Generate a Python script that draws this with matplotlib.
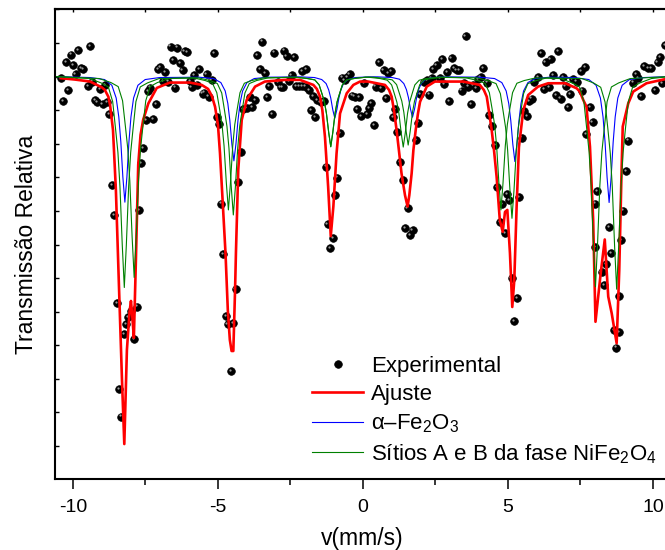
import matplotlib
matplotlib.use("Agg")
import matplotlib.pyplot as plt
import matplotlib.transforms as mtransforms
from matplotlib.ticker import MultipleLocator, NullFormatter

plt.rcParams['font.family'] = ['Liberation Sans', 'DejaVu Sans']
plt.rcParams['mathtext.fontset'] = 'custom'
plt.rcParams['mathtext.rm'] = 'Liberation Sans'
plt.rcParams['mathtext.it'] = 'Liberation Sans:italic'
plt.rcParams['mathtext.bf'] = 'Liberation Sans:bold'

# ---- dados experimentais (velocidade mm/s, transmissao relativa %) ----
exp_v = [
    -10.41, -10.33, -10.24, -10.16, -10.07, -9.99, -9.91, -9.82, -9.72, -9.64,
    -9.49, -9.41, -9.33, -9.24, -9.16, -9.07, -8.98, -8.90, -8.82, -8.75,
    -8.66, -8.58, -8.48, -8.40, -8.34, -8.23, -8.17, -8.09, -8.00, -7.90,
    -7.80, -7.72, -7.64, -7.57, -7.49, -7.40, -7.33, -7.24, -7.14, -7.07,
    -7.00, -6.89, -6.82, -6.73, -6.63, -6.56, -6.48, -6.40, -6.31, -6.22,
    -6.15, -6.06, -5.97, -5.91, -5.82, -5.73, -5.64, -5.53, -5.47, -5.39,
    -5.32, -5.22, -5.13, -5.04, -4.98, -4.90, -4.82, -4.73, -4.67, -4.55,
    -4.47, -4.39, -4.30, -4.22, -4.13, -4.01, -3.90, -3.82, -3.72, -3.64,
    -3.55, -3.47, -3.38, -3.30, -3.23, -3.13, -3.05, -2.93, -2.84, -2.77,
    -2.72, -2.63, -2.54, -2.46, -2.38, -2.31, -2.21, -2.11, -2.09, -1.98,
    -1.97, -1.87, -1.80, -1.71, -1.64, -1.58, -1.46, -1.36, -1.28, -1.22,
    -1.14, -1.04, -0.96, -0.88, -0.79, -0.72, -0.63, -0.54, -0.46,
    -0.37, -0.29, -0.21, -0.13, -0.07, 0.04, 0.13, 0.21, 0.29, 0.39,
    0.44, 0.55, 0.62, 0.71, 0.80, 0.86, 0.96, 1.04, 1.10, 1.18,
    1.29, 1.39, 1.46, 1.54, 1.62, 1.71, 1.82, 1.90, 1.97, 2.09,
    2.20, 2.29, 2.37, 2.43, 2.54, 2.66, 2.72, 2.79, 2.89, 2.98,
    3.06, 3.14, 3.23, 3.32, 3.40, 3.48, 3.54, 3.63, 3.72, 3.80,
    3.90, 3.98, 4.06, 4.15, 4.27, 4.35, 4.44, 4.56, 4.62, 4.72,
    4.81, 4.91, 4.97, 5.05, 5.13, 5.22, 5.33, 5.39, 5.47, 5.57,
    5.66, 5.73, 5.82, 5.91, 6.04, 6.14, 6.24, 6.30, 6.42, 6.47,
    6.56, 6.66, 6.73, 6.82, 6.91, 6.99, 7.08, 7.14, 7.23, 7.37,
    7.52, 7.57, 7.67, 7.71, 7.83, 7.92, 8.00, 8.00, 8.08, 8.23,
    8.31, 8.40, 8.49, 8.57, 8.66, 8.74, 8.84, 8.84, 8.91, 8.96,
    9.07, 9.15, 9.32, 9.41, 9.49, 9.58, 9.71, 9.84, 9.95, 10.07,
    10.16, 10.24, 10.33, 10.41,
]
exp_t = [
    99.95, 99.28, 100.44, 99.59, 100.65, 100.34, 100.07, 100.79, 100.24, 100.21,
    99.72, 100.90, 99.85, 99.30, 99.24, 99.62, 99.18, 99.75, 99.25, 98.88,
    96.77, 95.88, 93.25, 90.69, 89.88, 92.34, 92.62, 92.84, 93.02, 92.19,
    93.15, 96.03, 97.42, 97.86, 98.70, 99.57, 99.67, 98.74, 99.17, 100.23,
    100.29, 99.87, 100.13, 99.85, 100.89, 100.49, 99.67, 100.86, 100.39, 100.19,
    100.76, 100.73, 99.87, 99.69, 100.05, 99.76, 100.21, 99.49, 99.52, 100.07,
    99.40, 99.90, 100.69, 98.79, 98.58, 96.22, 94.72, 92.86, 92.62, 91.24,
    92.67, 93.68, 96.87, 97.76, 99.02, 99.07, 99.40, 99.08, 99.29, 100.64,
    100.22, 101.04, 100.11, 99.38, 99.72, 98.88, 100.71, 99.84, 99.69, 99.68,
    100.77, 100.61, 99.87, 100.04, 100.57, 99.72, 99.72, 100.17, 99.72, 99.70,
    100.22, 99.60, 99.00, 99.41, 98.79, 99.29, 99.25, 99.26, 97.32, 95.60,
    94.89, 95.18, 96.46, 96.99, 98.31, 99.97, 99.90, 99.98, 100.07,
    99.43, 99.40, 99.02, 99.38, 98.83, 99.80, 98.88, 99.05, 99.21, 98.55,
    99.70, 100.44, 99.66, 100.19, 99.35, 100.10, 100.17, 98.79, 99.02, 98.35,
    97.46, 96.92, 95.48, 96.09, 95.28, 95.43, 98.11, 98.63, 99.47, 99.84,
    99.90, 99.46, 99.96, 100.23, 100.34, 99.95, 100.51, 99.77, 100.13, 99.28,
    100.54, 100.24, 100.19, 100.19, 99.58, 99.80, 101.21, 99.70, 99.17, 99.75,
    99.65, 99.92, 99.99, 100.24, 99.82, 98.85, 98.52, 97.96, 96.71, 95.67,
    96.21, 95.34, 96.49, 96.33, 94.01, 92.72, 93.40, 96.40, 98.18, 98.97,
    98.82, 99.26, 99.34, 99.85, 99.98, 100.69, 99.62, 100.44, 99.68, 100.51,
    100.04, 99.45, 100.76, 99.34, 99.99, 99.72, 99.08, 99.47, 99.92, 99.85,
    100.16, 99.58, 100.27, 98.28, 99.08, 98.65, 96.22, 94.93, 96.59, 94.17,
    93.78, 94.42, 95.51, 94.74, 92.45, 91.93, 93.46, 92.40, 95.12, 96.01,
    97.19, 98.09, 99.82, 100.07, 99.95, 99.42, 100.31, 100.25, 100.24, 99.60,
    100.44, 100.57, 99.80, 100.94,
]

# ---- ajuste total (vermelho) ----
fit_v = [
    -10.42, -9.93, -9.41, -9.01, -8.90, -8.78, -8.72, -8.62, -8.52, -8.41,
    -8.31, -8.23, -8.14, -8.05, -8.00, -7.95, -7.90, -7.83, -7.75, -7.67,
    -7.58, -7.40, -7.11, -6.66, -5.97, -5.56, -5.34, -5.21, -5.10, -5.00,
    -4.93, -4.84, -4.74, -4.66, -4.59, -4.53, -4.47, -4.41, -4.38, -4.30,
    -4.18, -4.01, -3.72, -3.38, -2.69, -2.17, -1.71, -1.59, -1.48, -1.40,
    -1.31, -1.20, -1.11, -1.02, -0.91, -0.79, -0.56, -0.33, -0.10, 0.18,
    0.76, 0.90, 0.99, 1.07, 1.16, 1.24, 1.33, 1.45, 1.54, 1.60,
    1.68, 1.74, 1.82, 1.90, 1.97, 2.20, 2.48, 3.46, 4.03, 4.17,
    4.27, 4.34, 4.44, 4.52, 4.61, 4.72, 4.82, 4.90, 4.98, 5.07,
    5.15, 5.22, 5.30, 5.38, 5.53, 5.70, 6.04, 6.39, 6.97, 7.37,
    7.48, 7.60, 7.71, 7.83, 7.94, 8.02, 8.20, 8.34, 8.46, 8.58,
    8.75, 8.84, 8.92, 8.96, 9.15, 9.32, 9.78, 10.41, 10.59,
]
fit_t = [
    99.95, 99.91, 99.85, 99.68, 99.60, 99.40, 99.15, 98.41, 96.62, 93.65,
    90.97, 89.06, 91.86, 92.99, 93.32, 92.81, 92.22, 94.54, 97.37, 98.26,
    98.71, 99.20, 99.66, 99.82, 99.82, 99.75, 99.63, 99.42, 99.10, 98.56,
    97.72, 96.32, 94.75, 93.05, 92.16, 91.83, 91.83, 93.65, 94.75, 97.22,
    98.71, 99.30, 99.70, 99.85, 99.90, 99.90, 99.75, 99.63, 99.40, 99.00,
    98.21, 96.72, 95.25, 96.13, 97.71, 98.90, 99.50, 99.75, 99.85, 99.85,
    99.75, 99.60, 99.40, 99.00, 98.41, 97.81, 97.12, 96.47, 96.13, 96.47,
    97.12, 97.81, 98.41, 98.91, 99.25, 99.70, 99.85, 99.85, 99.75, 99.60,
    99.40, 99.00, 98.41, 97.81, 97.02, 95.73, 95.38, 95.97, 96.03, 94.75,
    93.14, 93.94, 96.12, 97.90, 99.00, 99.45, 99.70, 99.80, 99.80, 99.65,
    99.55, 99.30, 99.10, 97.91, 95.73, 92.70, 94.14, 95.15, 93.45, 92.95,
    92.06, 94.24, 97.22, 98.51, 99.20, 99.55, 99.80, 99.92, 99.93,
]

# ---- alfa-Fe2O3 (azul) ----
hem_v = [
    -10.62,
    -9.41, -8.91, -8.66, -8.51, -8.42, -8.35, -8.28, -8.21, -8.14, -8.07, -8.00, -7.91, -7.76, -7.51, -7.01,
    -5.65, -5.15, -4.90, -4.75, -4.66, -4.59, -4.52, -4.45, -4.38, -4.31, -4.24, -4.15, -4.00, -3.75, -3.25,
    -2.17, -1.67, -1.42, -1.27, -1.18, -1.11, -1.04, -0.97, -0.90, -0.83, -0.76, -0.67, -0.52, -0.27, 0.23,
    0.51, 1.01, 1.26, 1.41, 1.50, 1.57, 1.64, 1.71, 1.78, 1.85, 1.92, 2.01, 2.16, 2.41, 2.91,
    4.04, 4.54, 4.79, 4.94, 5.03, 5.10, 5.17, 5.24, 5.31, 5.38, 5.45, 5.54, 5.69, 5.94, 6.44,
    7.29, 7.79, 8.04, 8.19, 8.28, 8.35, 8.42, 8.49, 8.56, 8.63, 8.70, 8.79, 8.94, 9.19, 9.69,
    10.59,
]
hem_t = [
    100.00,
    99.97, 99.91, 99.74, 99.36, 98.80, 98.06, 97.01, 96.26, 97.01, 98.06, 98.80, 99.36, 99.74, 99.91, 99.97,
    99.98, 99.94, 99.82, 99.57, 99.20, 98.69, 97.99, 97.49, 97.99, 98.69, 99.20, 99.57, 99.82, 99.94, 99.98,
    99.99, 99.97, 99.91, 99.79, 99.60, 99.36, 99.01, 98.76, 99.01, 99.36, 99.60, 99.79, 99.91, 99.97, 99.99,
    99.99, 99.97, 99.92, 99.79, 99.61, 99.37, 99.03, 98.79, 99.03, 99.37, 99.61, 99.79, 99.92, 99.97, 99.99,
    99.98, 99.94, 99.82, 99.57, 99.19, 98.68, 97.98, 97.47, 97.98, 98.68, 99.19, 99.57, 99.82, 99.94, 99.98,
    99.97, 99.91, 99.74, 99.36, 98.80, 98.05, 97.00, 96.25, 97.00, 98.05, 98.80, 99.36, 99.74, 99.91, 99.97,
    100.00,
]

# ---- NiFe2O4, sitio A (verde) ----
site_a_v = [
    -10.62,
    -9.43, -9.03, -8.78, -8.63, -8.53, -8.45, -8.38, -8.30, -8.23, -8.16, -8.08, -8.01, -7.93, -7.83, -7.68, -7.43, -7.03,
    -5.84, -5.44, -5.19, -5.04, -4.94, -4.86, -4.79, -4.71, -4.64, -4.57, -4.49, -4.42, -4.34, -4.24, -4.09, -3.84, -3.44,
    -2.31, -1.91, -1.66, -1.51, -1.41, -1.33, -1.26, -1.18, -1.11, -1.04, -0.96, -0.89, -0.81, -0.71, -0.56, -0.31, 0.09,
    0.19, 0.59, 0.84, 0.99, 1.09, 1.17, 1.24, 1.32, 1.39, 1.46, 1.54, 1.61, 1.69, 1.79, 1.94, 2.19, 2.59,
    3.56, 3.96, 4.21, 4.36, 4.46, 4.54, 4.61, 4.69, 4.76, 4.83, 4.91, 4.98, 5.06, 5.16, 5.31, 5.56, 5.96,
    6.82, 7.22, 7.47, 7.62, 7.72, 7.80, 7.87, 7.95, 8.02, 8.09, 8.17, 8.24, 8.32, 8.42, 8.57, 8.82, 9.22,
    10.59,
]
site_a_t = [
    100.00,
    99.94, 99.81, 99.69, 99.25, 98.43, 97.74, 96.73, 94.98, 93.72, 94.98, 96.73, 97.74, 98.43, 99.25, 99.69, 99.81, 99.94,
    99.96, 99.88, 99.80, 99.52, 99.01, 98.57, 97.94, 96.82, 96.03, 96.82, 97.94, 98.57, 99.01, 99.52, 99.80, 99.88, 99.96,
    99.98, 99.94, 99.90, 99.75, 99.48, 99.25, 98.91, 98.33, 97.91, 98.33, 98.91, 99.25, 99.48, 99.75, 99.90, 99.94, 99.98,
    99.98, 99.94, 99.89, 99.75, 99.47, 99.24, 98.91, 98.32, 97.90, 98.32, 98.91, 99.24, 99.47, 99.75, 99.89, 99.94, 99.98,
    99.96, 99.88, 99.80, 99.52, 99.01, 98.57, 97.94, 96.82, 96.03, 96.82, 97.94, 98.57, 99.01, 99.52, 99.80, 99.88, 99.96,
    99.94, 99.81, 99.69, 99.25, 98.43, 97.75, 96.74, 94.99, 93.74, 94.99, 96.74, 97.75, 98.43, 99.25, 99.69, 99.81, 99.94,
    100.00,
]

# ---- NiFe2O4, sitio B (verde) ----
site_b_v = [
    -10.62,
    -9.09, -8.69, -8.44, -8.29, -8.19, -8.11, -8.04, -7.96, -7.89, -7.82, -7.74, -7.67, -7.59, -7.49, -7.34, -7.09, -6.69,
    -5.67, -5.27, -5.02, -4.87, -4.77, -4.69, -4.62, -4.54, -4.47, -4.40, -4.32, -4.25, -4.17, -4.07, -3.92, -3.67, -3.27,
    -2.31, -1.91, -1.66, -1.51, -1.41, -1.33, -1.26, -1.18, -1.11, -1.04, -0.96, -0.89, -0.81, -0.71, -0.56, -0.31, 0.09,
    0.36, 0.76, 1.01, 1.16, 1.26, 1.34, 1.41, 1.49, 1.56, 1.63, 1.71, 1.78, 1.86, 1.96, 2.11, 2.36, 2.76,
    3.94, 4.34, 4.59, 4.74, 4.84, 4.92, 4.99, 5.07, 5.14, 5.21, 5.29, 5.36, 5.44, 5.54, 5.69, 5.94, 6.34,
    7.55, 7.95, 8.20, 8.35, 8.45, 8.53, 8.60, 8.68, 8.75, 8.82, 8.90, 8.97, 9.05, 9.15, 9.30, 9.55, 9.95,
    10.59,
]
site_b_t = [
    100.00,
    99.94, 99.82, 99.70, 99.28, 98.50, 97.85, 96.89, 95.22, 94.02, 95.22, 96.89, 97.85, 98.50, 99.28, 99.70, 99.82, 99.94,
    99.96, 99.88, 99.79, 99.51, 98.97, 98.52, 97.86, 96.70, 95.88, 96.70, 97.86, 98.52, 98.97, 99.51, 99.79, 99.88, 99.96,
    99.98, 99.94, 99.90, 99.75, 99.48, 99.25, 98.91, 98.33, 97.91, 98.33, 98.91, 99.25, 99.48, 99.75, 99.90, 99.94, 99.98,
    99.98, 99.94, 99.90, 99.76, 99.49, 99.27, 98.94, 98.37, 97.96, 98.37, 98.94, 99.27, 99.49, 99.76, 99.90, 99.94, 99.98,
    99.96, 99.87, 99.79, 99.49, 98.94, 98.48, 97.81, 96.62, 95.78, 96.62, 97.81, 98.48, 98.94, 99.49, 99.79, 99.87, 99.96,
    99.94, 99.81, 99.68, 99.24, 98.42, 97.72, 96.71, 94.94, 93.67, 94.94, 96.71, 97.72, 98.42, 99.24, 99.68, 99.81, 99.94,
    100.00,
]

x_major = [-10, -5, 0, 5, 10]
x_labels = ['-10', '-5', '0', '5', '10']

# ---- figura ----
fig = plt.figure(figsize=(6.65, 5.5), dpi=100)
ax = fig.add_axes([55 / 665, 71 / 550, 615 / 665, 470 / 550])

ax.plot(exp_v, exp_t, 'o', color='black', ms=5.5, mec='black', mew=0.5,
        label='Experimental')
# brilho das esferas
shine = mtransforms.ScaledTranslation(-1.2 / 100, 1.2 / 100, fig.dpi_scale_trans)
ax.plot(exp_v, exp_t, 'o', color='#9a9a9a', ms=1.6, mec='none',
        transform=ax.transData + shine)

ax.plot(fit_v, fit_t, color='#ff0000', lw=1.9, label='Ajuste')
ax.plot(hem_v, hem_t, color='#0000ff', lw=0.8, label='α–Fe$_2$O$_3$')
ax.plot(site_a_v, site_a_t, color='#008000', lw=0.8,
        label='Sítios A e B da fase NiFe$_2$O$_4$')
ax.plot(site_b_v, site_b_t, color='#008000', lw=0.8)

ax.set_xlim(-10.62, 10.59)
ax.set_ylim(88.02, 102.01)

# eixos estilo Origin
ax.set_xticks(x_major)
ax.set_xticklabels(x_labels)
ax.xaxis.set_minor_locator(MultipleLocator(2.5))
ax.tick_params(axis='x', which='major', direction='out', length=7, width=1.1,
               labelsize=14, pad=7.5, top=False)
ax.tick_params(axis='x', which='minor', direction='out', length=4, width=1.1, top=False)
ax.yaxis.set_major_locator(MultipleLocator(1))
ax.yaxis.set_major_formatter(NullFormatter())
ax.tick_params(axis='y', which='major', direction='in', length=3, width=1.0,
               left=True, right=False)

top = ax.secondary_xaxis('top')
top.set_xticks(x_major)
top.xaxis.set_minor_locator(MultipleLocator(2.5))
top.tick_params(which='both', direction='in', length=2.5, width=1.0, labeltop=False)
top.spines['top'].set_linewidth(1.5)

for spine in ax.spines.values():
    spine.set_linewidth(1.5)
    spine.set_color('black')

ax.set_xlabel('v(mm/s)', fontsize=16.5, labelpad=7.5)
ax.set_ylabel('Transmissão Relativa', fontsize=16.5)
ax.yaxis.set_label_coords(-0.028, 0.5)

ax.legend(loc='lower left', bbox_to_anchor=(0.418, 0.028), frameon=False,
          fontsize=16, handlelength=2.3, handletextpad=0.35, labelspacing=0.33,
          borderpad=0, borderaxespad=0)

fig.savefig('out.png', dpi=100)
